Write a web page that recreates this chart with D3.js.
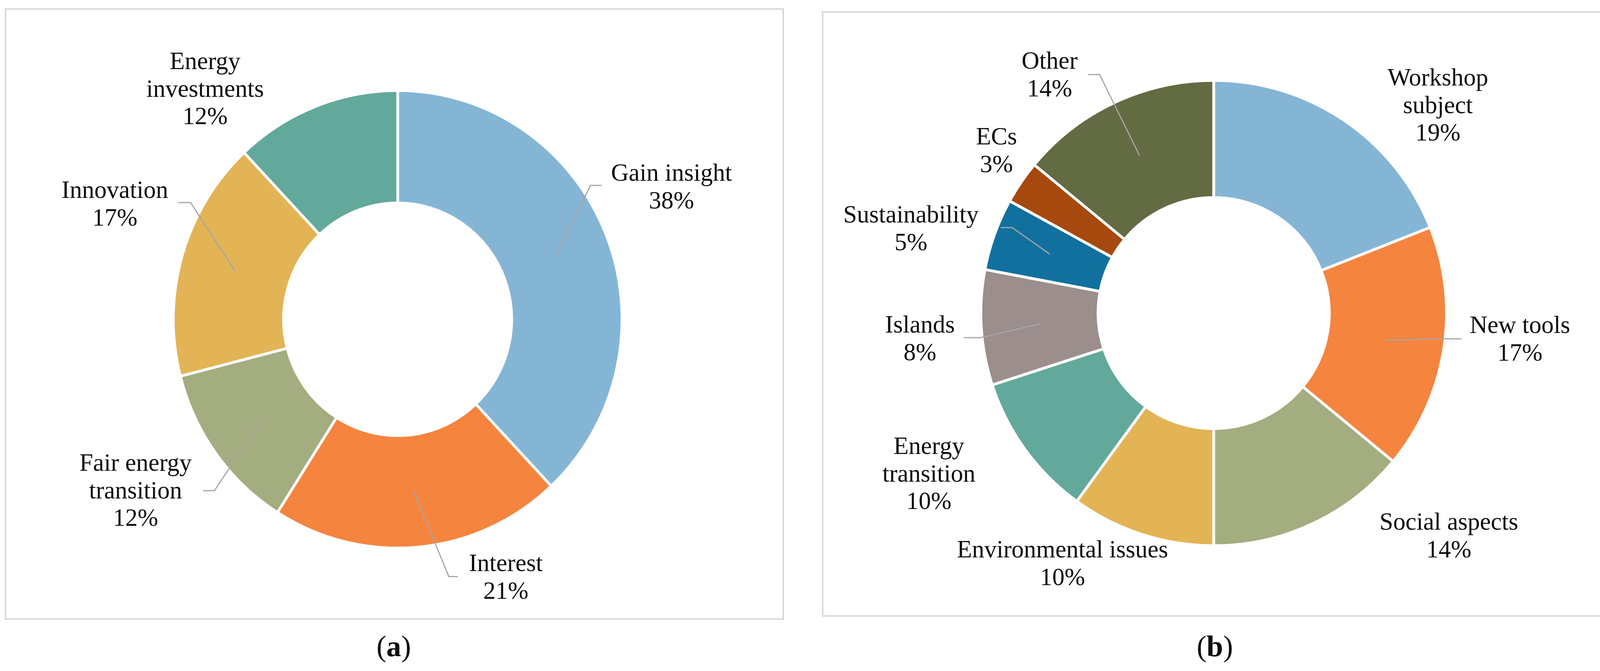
<!DOCTYPE html>
<html>
<head>
<meta charset="utf-8">
<script src="https://cdn.jsdelivr.net/npm/d3@7"></script>
<style>
  html, body { margin: 0; padding: 0; background: #fff; }
  svg { display: block; }
  text { font-family: "Liberation Serif", "Times New Roman", serif; fill: #0d0d0d; }
</style>
</head>
<body>
<script>
// panel (a) data
var reasonsA = ['Gain insight', 'Interest', 'Fair energy transition', 'Innovation', 'Energy investments'];
var valuesA = [38, 21, 12, 17, 12];
var colorsA = ['#85b5d5', '#f5843f', '#a3ad7f', '#e3b455', '#62a99b'];

// panel (b) data
var topicsB = ['Workshop subject', 'New tools', 'Social aspects', 'Environmental issues',
	'Energy transition', 'Islands', 'Sustainability', 'ECs', 'Other'];
var valuesB = [19, 17, 14, 10, 10, 8, 5, 3, 14];
var colorsB = ['#85b5d5', '#f5843f', '#a3ad7f', '#e3b455', '#62a99b',
	'#9b8e8d', '#11709e', '#a6490f', '#636b43'];

// label placement as set by hand in the original (first baseline, centre x, optional leader elbow)
var layoutA = [
	{ x: 1719, y: 463, wrap: false, leader: [1540, 475, 1512, 475] },
	{ x: 1295, y: 1463, wrap: false, leader: [1172, 1477, 1149, 1477] },
	{ x: 347, y: 1206, wrap: true, leader: [520, 1257, 549, 1257] },
	{ x: 294, y: 507, wrap: false, leader: [456, 519, 488, 519] },
	{ x: 525, y: 177, wrap: true, leader: null }
];
var layoutB = [
	{ x: 3681, y: 219, wrap: true, leader: null },
	{ x: 3891, y: 853, wrap: false, leader: [3742, 868, 3698, 868] },
	{ x: 3709, y: 1357, wrap: false, leader: null },
	{ x: 2720, y: 1428, wrap: false, leader: null },
	{ x: 2378, y: 1163, wrap: true, leader: null },
	{ x: 2355, y: 852, wrap: false, leader: [2467, 865, 2510, 865] },
	{ x: 2332, y: 570, wrap: false, leader: [2562, 583, 2591, 583] },
	{ x: 2551, y: 370, wrap: false, leader: null },
	{ x: 2687, y: 176, wrap: false, leader: [2786, 191, 2815, 191] }
];

var W = 4135, H = 1719,
	fontSize = 63,
	lineGap = 70.5,
	pct = d3.format('.0%');

var svg = d3.select('body').append('svg')
	.attr('width', W)
	.attr('height', H);

svg.append('rect')
	.attr('width', W)
	.attr('height', H)
	.attr('fill', '#fff');

function drawDonut(opts) {
	var total = d3.sum(opts.values);

	svg.append('rect')
		.attr('x', opts.frame[0])
		.attr('y', opts.frame[1])
		.attr('width', opts.frame[2] - opts.frame[0])
		.attr('height', opts.frame[3] - opts.frame[1])
		.attr('fill', 'none')
		.attr('stroke', '#d9d9d9')
		.attr('stroke-width', 4);

	var pie = d3.pie().sort(null).value(function(d) { return d; });
	var arcs = pie(opts.values);

	var arc = d3.arc()
		.innerRadius(opts.r0)
		.outerRadius(opts.r1);

	var g = svg.append('g')
		.attr('transform', 'translate(' + opts.cx + ',' + opts.cy + ') scale(' + opts.sx + ',1)');

	g.selectAll('path')
			.data(arcs)
		.enter().append('path')
			.attr('d', arc)
			.attr('fill', function(d, i) { return opts.colors[i]; })
			.attr('stroke', '#fff')
			.attr('stroke-width', 7)
			.attr('stroke-linejoin', 'round');

	// leader lines run from the label elbow to the slice centroid
	arcs.forEach(function(d, i) {
		var lay = opts.layout[i];
		if (!lay.leader) return;
		var c = arc.centroid(d),
			px = opts.cx + c[0] * opts.sx,
			py = opts.cy + c[1],
			l = lay.leader;
		svg.append('path')
			.attr('d', d3.line()([[l[0], l[1]], [l[2], l[3]], [px, py]]))
			.attr('fill', 'none')
			.attr('stroke', '#a6a6a6')
			.attr('stroke-width', 3);
	});

	arcs.forEach(function(d, i) {
		var lay = opts.layout[i],
			name = opts.names[i],
			lines;
		if (lay.wrap) {
			var k = name.lastIndexOf(' ');
			lines = [name.slice(0, k), name.slice(k + 1)];
		} else {
			lines = [name];
		}
		lines.push(pct(d.data / total));

		var t = svg.append('text')
			.attr('text-anchor', 'middle')
			.attr('font-size', fontSize);
		lines.forEach(function(s, j) {
			t.append('tspan')
				.attr('x', lay.x)
				.attr('y', lay.y + j * lineGap)
				.text(s);
		});
	});

	var cap = svg.append('text')
		.attr('x', opts.capX)
		.attr('y', 1681)
		.attr('text-anchor', 'middle')
		.attr('font-size', 76);
	cap.append('tspan').text('(');
	cap.append('tspan').attr('font-weight', 'bold').text(opts.caption);
	cap.append('tspan').text(')');
}

drawDonut({
	names: reasonsA, values: valuesA, colors: colorsA, layout: layoutA,
	cx: 1018, cy: 818, r0: 298, r1: 586, sx: 0.98,
	frame: [14, 23, 2005, 1586],
	capX: 1008, caption: 'a'
});

drawDonut({
	names: topicsB, values: valuesB, colors: colorsB, layout: layoutB,
	cx: 3107, cy: 802, r0: 296, r1: 596, sx: 1,
	frame: [2106, 31, 4108, 1578],
	capX: 3110, caption: 'b'
});
</script>
</body>
</html>
